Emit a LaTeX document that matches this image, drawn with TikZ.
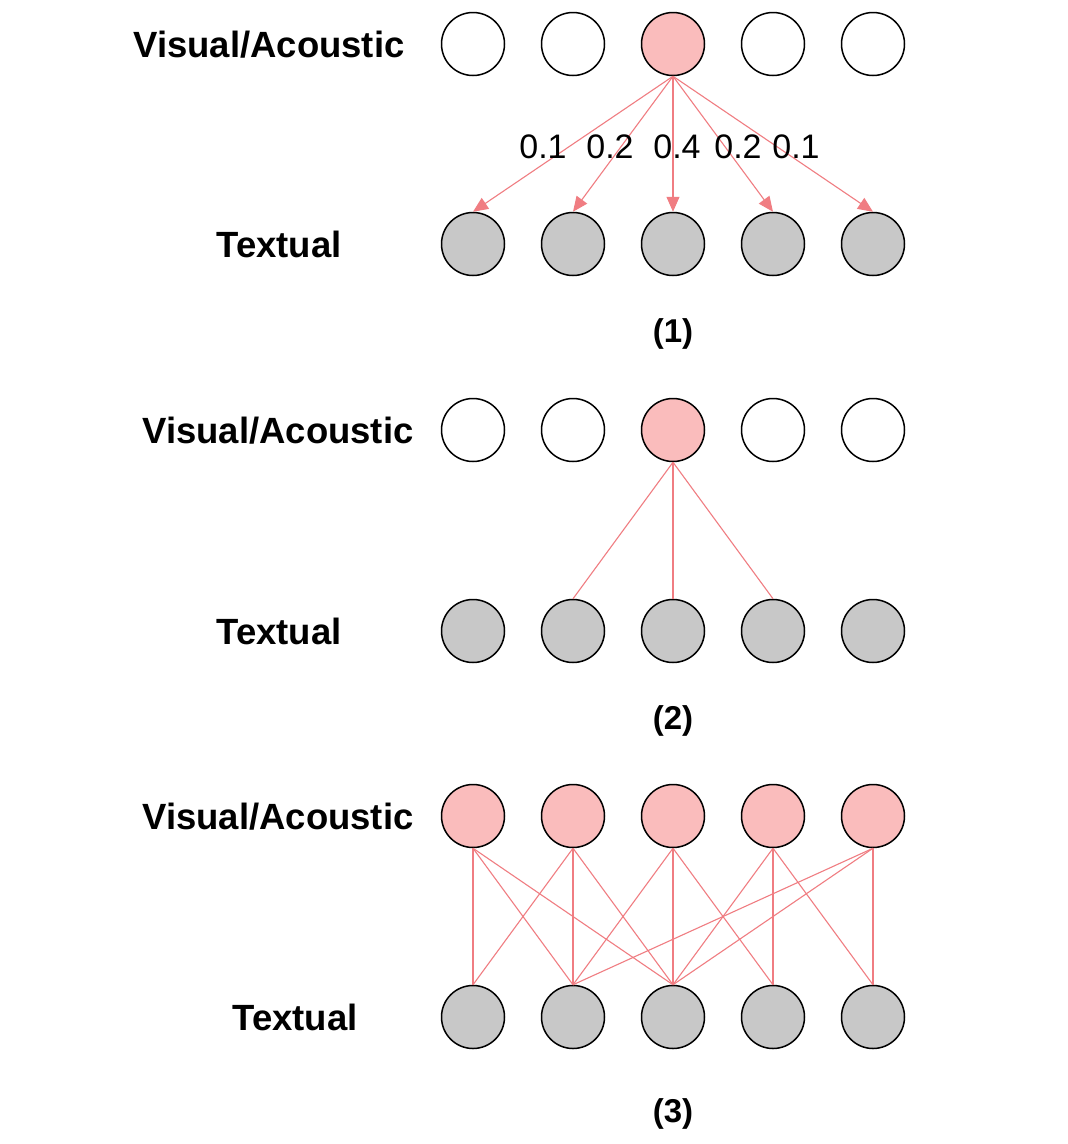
\documentclass[tikz,border=0pt]{standalone}
\usepackage{fontspec}
\setmainfont{Liberation Sans}
\usetikzlibrary{arrows.meta}
\definecolor{pinkfill}{RGB}{250,188,188}
\definecolor{grayfill}{RGB}{200,200,200}
\definecolor{linkcol}{RGB}{240,125,130}
\begin{document}
\begin{tikzpicture}[x=1pt,y=-1pt,
  unit/.style={circle,draw=black,line width=1.5pt,minimum size=63pt,inner sep=0pt},
  emptyunit/.style={unit,fill=white},
  activeunit/.style={unit,fill=pinkfill},
  textunit/.style={unit,fill=grayfill},
  link/.style={draw=linkcol,line width=1.1pt},
  arrowlink/.style={link,-{Triangle[length=15pt,width=13pt]}},
  rowlabel/.style={font=\fontsize{36.5}{40}\selectfont\bfseries,anchor=base,inner sep=0pt},
  caption/.style={font=\fontsize{33}{38}\selectfont\bfseries,anchor=base,inner sep=0pt},
  weight/.style={font=\fontsize{34}{38}\selectfont,anchor=base,inner sep=0pt}]
\useasboundingbox (0,0) rectangle (1068,1144);
\fill[white] (0,0) rectangle (1068,1144);

% ---------- Panel 1 ----------
\foreach \i/\x in {1/473,2/573,4/773,5/873} \node[emptyunit] (a\i) at (\x,44) {};
\node[activeunit] (a3) at (673,44) {};
\foreach \i/\x in {1/473,2/573,3/673,4/773,5/873} \node[textunit] (at\i) at (\x,244) {};
\foreach \i in {1,...,5} \draw[arrowlink] (a3.south) -- (at\i.north);
\node[rowlabel] (alv) at (269,57) {Visual/Acoustic};
\node[rowlabel] (alt) at (279,257) {Textual};
\node[weight] (w1) at (543,158) {0.1};
\node[weight] (w2) at (610,158) {0.2};
\node[weight] (w3) at (677,158) {0.4};
\node[weight] (w4) at (738,158) {0.2};
\node[weight] (w5) at (796,158) {0.1};
\node[caption] (c1) at (673,342) {(1)};

% ---------- Panel 2 ----------
\foreach \i/\x in {1/473,2/573,4/773,5/873} \node[emptyunit] (b\i) at (\x,430) {};
\node[activeunit] (b3) at (673,430) {};
\foreach \i/\x in {1/473,2/573,3/673,4/773,5/873} \node[textunit] (bt\i) at (\x,631) {};
\foreach \i in {2,3,4} \draw[link] (b3.south) -- (bt\i.north);
\node[rowlabel] (blv) at (278,443) {Visual/Acoustic};
\node[rowlabel] (blt) at (279,644) {Textual};
\node[caption] (c2) at (673,729) {(2)};

% ---------- Panel 3 ----------
\foreach \i/\x in {1/473,2/573,3/673,4/773,5/873} \node[activeunit] (c\i) at (\x,816) {};
\foreach \i/\x in {1/473,2/573,3/673,4/773,5/873} \node[textunit] (ct\i) at (\x,1017) {};
\foreach \s/\t in {1/1,1/2,1/3,2/1,2/2,2/3,3/2,3/3,3/4,4/3,4/4,4/5,5/2,5/3,5/5}
  \draw[link] (c\s.south) -- (ct\t.north);
\node[rowlabel] (clv) at (278,829) {Visual/Acoustic};
\node[rowlabel] (clt) at (295,1030) {Textual};
\node[caption] (c3) at (673,1122) {(3)};
\end{tikzpicture}
\end{document}
